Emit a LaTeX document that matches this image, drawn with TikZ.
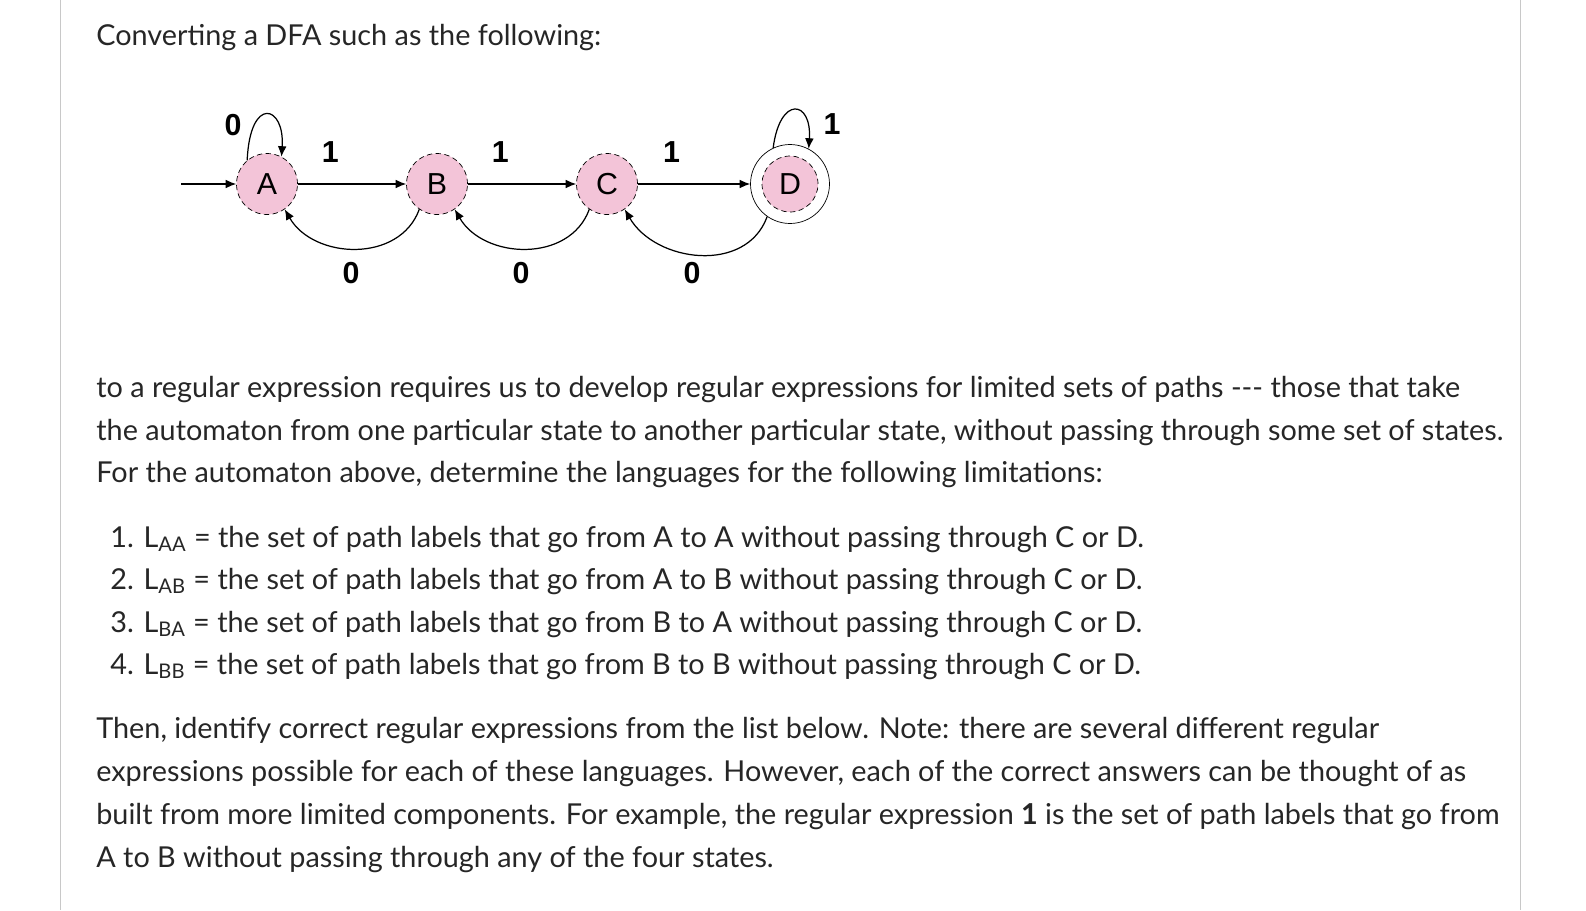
\documentclass[tikz,border=0pt]{standalone}
\usepackage{fontspec}
\setmainfont{Lato}
\newfontfamily\dfafont{Liberation Sans}
\usetikzlibrary{arrows.meta}
\definecolor{statefill}{RGB}{243,196,216}
\definecolor{rulegray}{RGB}{200,200,200}
\tikzset{
  state/.style={circle,draw,densely dashed,fill=statefill,minimum size=1.22cm,inner sep=0pt,font=\dfafont\LARGE},
  trans/.style={-{Latex[length=6pt,width=5pt]},line width=0.7pt},
  lbl/.style={font=\dfafont\LARGE\bfseries,inner sep=0pt},
  txt/.style={anchor=base west,inner sep=0pt,font=\fontsize{16.4}{20}\selectfont,text=black!85}
}
\begin{document}
\begin{tikzpicture}[x=0.02cm,y=-0.02cm]
	\useasboundingbox (0,0) rectangle (1586,910);
	\draw [rulegray] (60,0) -- (60,910);
	\draw [rulegray] (1520,0) -- (1520,910);
	\node [txt] (t0) at (96,45) {Converting a DFA such as the following:};
	% the automaton
	\node [state] (A) at (267,184) {A};
	\node [state] (B) at (437,184) {B};
	\node [state] (C) at (607,184) {C};
	\node [circle,draw,minimum size=1.58cm,inner sep=0pt] (Dout) at (790,184) {};
	\node [state,minimum size=1.12cm] (D) at (790,184) {D};
	\coordinate (start) at (181,184);
	\draw [trans] (start) -- (A);
	\draw [trans] (A) -- (B) node [lbl,pos=0.3,above=12pt] (l1) {1};
	\draw [trans] (B) -- (C) node [lbl,pos=0.3,above=12pt] (l2) {1};
	\draw [trans] (C) -- (Dout) node [lbl,pos=0.3,above=12pt] (l3) {1};
	\draw [trans] (B.235) to [out=250,in=300,looseness=1.1] (A.-55);
	\draw [trans] (C.235) to [out=250,in=300,looseness=1.1] (B.-55);
	\draw [trans] (Dout.235) to [out=250,in=300,looseness=1.1] (C.-55);
	\node [lbl] (l4) at (351,273) {0};
	\node [lbl] (l5) at (521,273) {0};
	\node [lbl] (l6) at (692,273) {0};
	\draw [trans] (A.130) .. controls (250,95) and (285,105) .. (A.62);
	\node [lbl] (l7) at (233,125) {0};
	\draw [trans] (Dout.115) .. controls (780,95) and (812,100) .. (Dout.62);
	\node [lbl] (l8) at (832,124) {1};
	% the text
	\node [txt] (p1) at (96,397) {to a regular expression requires us to develop regular expressions for limited sets of paths {-}{-}{-} those that take};
	\node [txt] (p2) at (96,440) {the automaton from one particular state to another particular state, without passing through some set of states.};
	\node [txt] (p3) at (96,482) {For the automaton above, determine the languages for the following limitations:};
	\node [txt] (i1) at (110,547) {1. L\textsubscript{AA} = the set of path labels that go from A to A without passing through C or D.};
	\node [txt] (i2) at (110,589) {2. L\textsubscript{AB} = the set of path labels that go from A to B without passing through C or D.};
	\node [txt] (i3) at (110,632) {3. L\textsubscript{BA} = the set of path labels that go from B to A without passing through C or D.};
	\node [txt] (i4) at (110,674) {4. L\textsubscript{BB} = the set of path labels that go from B to B without passing through C or D.};
	\node [txt] (q1) at (96,738) {Then, identify correct regular expressions from the list below. Note: there are several different regular};
	\node [txt] (q2) at (96,781) {expressions possible for each of these languages. However, each of the correct answers can be thought of as};
	\node [txt] (q3) at (96,824) {built from more limited components. For example, the regular expression \textbf{1} is the set of path labels that go from};
	\node [txt] (q4) at (96,867) {A to B without passing through any of the four states.};
\end{tikzpicture}
\end{document}
